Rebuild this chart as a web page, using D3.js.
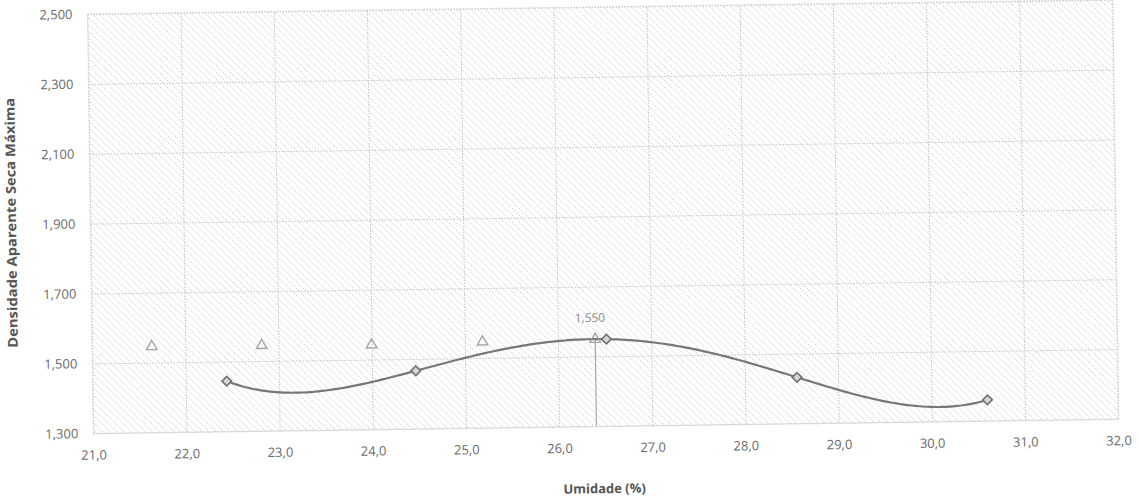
<!DOCTYPE html>
<html>
<head>
<meta charset="utf-8">
<script src="https://cdn.jsdelivr.net/npm/d3@7"></script>
<style>
  html, body { margin: 0; padding: 0; background: #fff; }
  svg { display: block; }
  text { font-family: "Open Sans", "Liberation Sans", sans-serif; }
</style>
</head>
<body>
<svg id="chart" width="1141" height="500"></svg>
<script>
// ---- data ----
const xTickValues = [21, 22, 23, 24, 25, 26, 27, 28, 29, 30, 31, 32];
const xTickLabels = ["21,0", "22,0", "23,0", "24,0", "25,0", "26,0", "27,0", "28,0", "29,0", "30,0", "31,0", "32,0"];
const yTickValues = [1300, 1500, 1700, 1900, 2100, 2300, 2500];
const yTickLabels = ["1,300", "1,500", "1,700", "1,900", "2,100", "2,300", "2,500"];

// compaction points (diamonds)
const moisture = [22.44, 24.47, 26.52, 28.56, 30.60];
const density  = [1444, 1466, 1549, 1432, 1360];

// triangle series
const triMoisture = [21.64, 22.82, 24.00, 25.19, 26.40];
const triDensity  = [1546, 1545, 1542, 1546, 1549];

// maximum marker
const maxMoisture = 26.40;
const maxDensity = 1550;
const maxLabel = "1,550";

const xTitle = "Umidade (%)";
const yTitle = "Densidade Aparente Seca Máxima";

// ---- layout ----
const plot = { left: 93.3, right: 1118.3, top: 14, bottom: 433.3 };
const skew = -0.8; // scan rotation

const svg = d3.select("#chart");
const defs = svg.append("defs");
const pat = defs.append("pattern")
  .attr("id", "hatch")
  .attr("patternUnits", "userSpaceOnUse")
  .attr("width", 7).attr("height", 7);
pat.append("path")
  .attr("d", "M-1,-1 L8,8 M-1,6 L1,8 M6,-1 L8,1")
  .attr("stroke", "#b9b9b9")
  .attr("stroke-width", 0.9)
  .attr("stroke-dasharray", "1.2,1.2");

const g = svg.append("g")
  .attr("transform", `rotate(${skew}, ${plot.left}, ${plot.bottom})`);

const x = d3.scaleLinear().domain([21, 32]).range([plot.left, plot.right]);
const y = d3.scaleLinear().domain([1300, 2500]).range([plot.bottom, plot.top]);

// background hatch
g.append("rect")
  .attr("x", plot.left).attr("y", plot.top)
  .attr("width", plot.right - plot.left).attr("height", plot.bottom - plot.top)
  .attr("fill", "url(#hatch)");

// gridlines
const xAxisGrid = d3.axisBottom(x).tickValues(xTickValues)
  .tickSize(-(plot.bottom - plot.top)).tickFormat("");
const yAxisGrid = d3.axisLeft(y).tickValues(yTickValues)
  .tickSize(-(plot.right - plot.left)).tickFormat("");

const gx = g.append("g").attr("transform", `translate(0,${plot.bottom})`).call(xAxisGrid);
const gy = g.append("g").attr("transform", `translate(${plot.left},0)`).call(yAxisGrid);
[gx, gy].forEach(a => {
  a.select(".domain").remove();
  a.selectAll(".tick line")
    .attr("stroke", "#c4c4c4")
    .attr("stroke-width", 1)
    .attr("stroke-dasharray", "1.5,1.5");
});

// plot border
g.append("rect")
  .attr("x", plot.left).attr("y", plot.top)
  .attr("width", plot.right - plot.left).attr("height", plot.bottom - plot.top)
  .attr("fill", "none")
  .attr("stroke", "#cfcfcf")
  .attr("stroke-dasharray", "1.5,1.5");

// tick labels
const xAxisLabels = d3.axisBottom(x).tickValues(xTickValues)
  .tickSize(0).tickPadding(17)
  .tickFormat((d, i) => xTickLabels[i]);
const gxl = g.append("g").attr("transform", `translate(0,${plot.bottom})`).call(xAxisLabels);
gxl.select(".domain").remove();
gxl.selectAll("text")
  .attr("font-family", "'Open Sans', sans-serif")
  .attr("font-size", 13).attr("fill", "#6a6a6a");

const yAxisLabels = d3.axisLeft(y).tickValues(yTickValues)
  .tickSize(0).tickPadding(15)
  .tickFormat((d, i) => yTickLabels[i]);
const gyl = g.append("g").attr("transform", `translate(${plot.left},0)`).call(yAxisLabels);
gyl.select(".domain").remove();
gyl.selectAll("text")
  .attr("font-family", "'Open Sans', sans-serif")
  .attr("font-size", 13).attr("fill", "#6a6a6a");

// axis titles
g.append("text")
  .attr("x", (plot.left + plot.right) / 2 - 2)
  .attr("y", plot.bottom + 67)
  .attr("text-anchor", "middle")
  .attr("font-size", 13).attr("font-weight", "bold").attr("fill", "#555")
  .text(xTitle);

g.append("text")
  .attr("transform", `translate(19, ${(plot.top + plot.bottom) / 2 - 2}) rotate(-90)`)
  .attr("text-anchor", "middle")
  .attr("font-size", 13.5).attr("font-weight", "bold").attr("fill", "#555")
  .attr("textLength", 250).attr("lengthAdjust", "spacingAndGlyphs")
  .text(yTitle);

// vertical drop line at the maximum
g.append("line")
  .attr("x1", x(maxMoisture)).attr("x2", x(maxMoisture))
  .attr("y1", y(maxDensity)).attr("y2", y(1300))
  .attr("stroke", "#a8a8a8").attr("stroke-width", 1.2);

// polynomial trendline (order 4) through the compaction points
const pts = moisture.map((m, i) => [m, density[i]]);
function lagrange(xv) {
  let s = 0;
  for (let i = 0; i < pts.length; i++) {
    let l = 1;
    for (let j = 0; j < pts.length; j++) {
      if (j !== i) l *= (xv - pts[j][0]) / (pts[i][0] - pts[j][0]);
    }
    s += l * pts[i][1];
  }
  return s;
}
const xs = d3.range(0, 201).map(k => moisture[0] + (moisture[4] - moisture[0]) * k / 200);
const line = d3.line().x(d => x(d)).y(d => y(lagrange(d))).curve(d3.curveLinear);
g.append("path")
  .datum(xs)
  .attr("d", line)
  .attr("fill", "none")
  .attr("stroke", "#777")
  .attr("stroke-width", 2.2);

// triangles
const tri = d3.symbol().type(d3.symbolTriangle).size(48);
g.selectAll(".tri")
  .data(triMoisture.map((m, i) => [m, triDensity[i]]))
  .join("path")
  .attr("class", "tri")
  .attr("d", tri)
  .attr("transform", d => `translate(${x(d[0])},${y(d[1])})`)
  .attr("fill", "none")
  .attr("stroke", "#a4a4a4")
  .attr("stroke-width", 1.4);

// diamonds (square rotated 45°)
const dia = d3.symbol().type(d3.symbolSquare).size(46);
g.selectAll(".dia")
  .data(pts)
  .join("path")
  .attr("class", "dia")
  .attr("d", dia)
  .attr("transform", d => `translate(${x(d[0])},${y(d[1])}) rotate(45)`)
  .attr("fill", "#d6d6d6")
  .attr("stroke", "#707070")
  .attr("stroke-width", 1.6);

// max label
g.append("text")
  .attr("x", x(maxMoisture) - 5)
  .attr("y", y(maxDensity) - 17)
  .attr("text-anchor", "middle")
  .attr("font-size", 12).attr("fill", "#8a8a8a")
  .text(maxLabel);
</script>
</body>
</html>
